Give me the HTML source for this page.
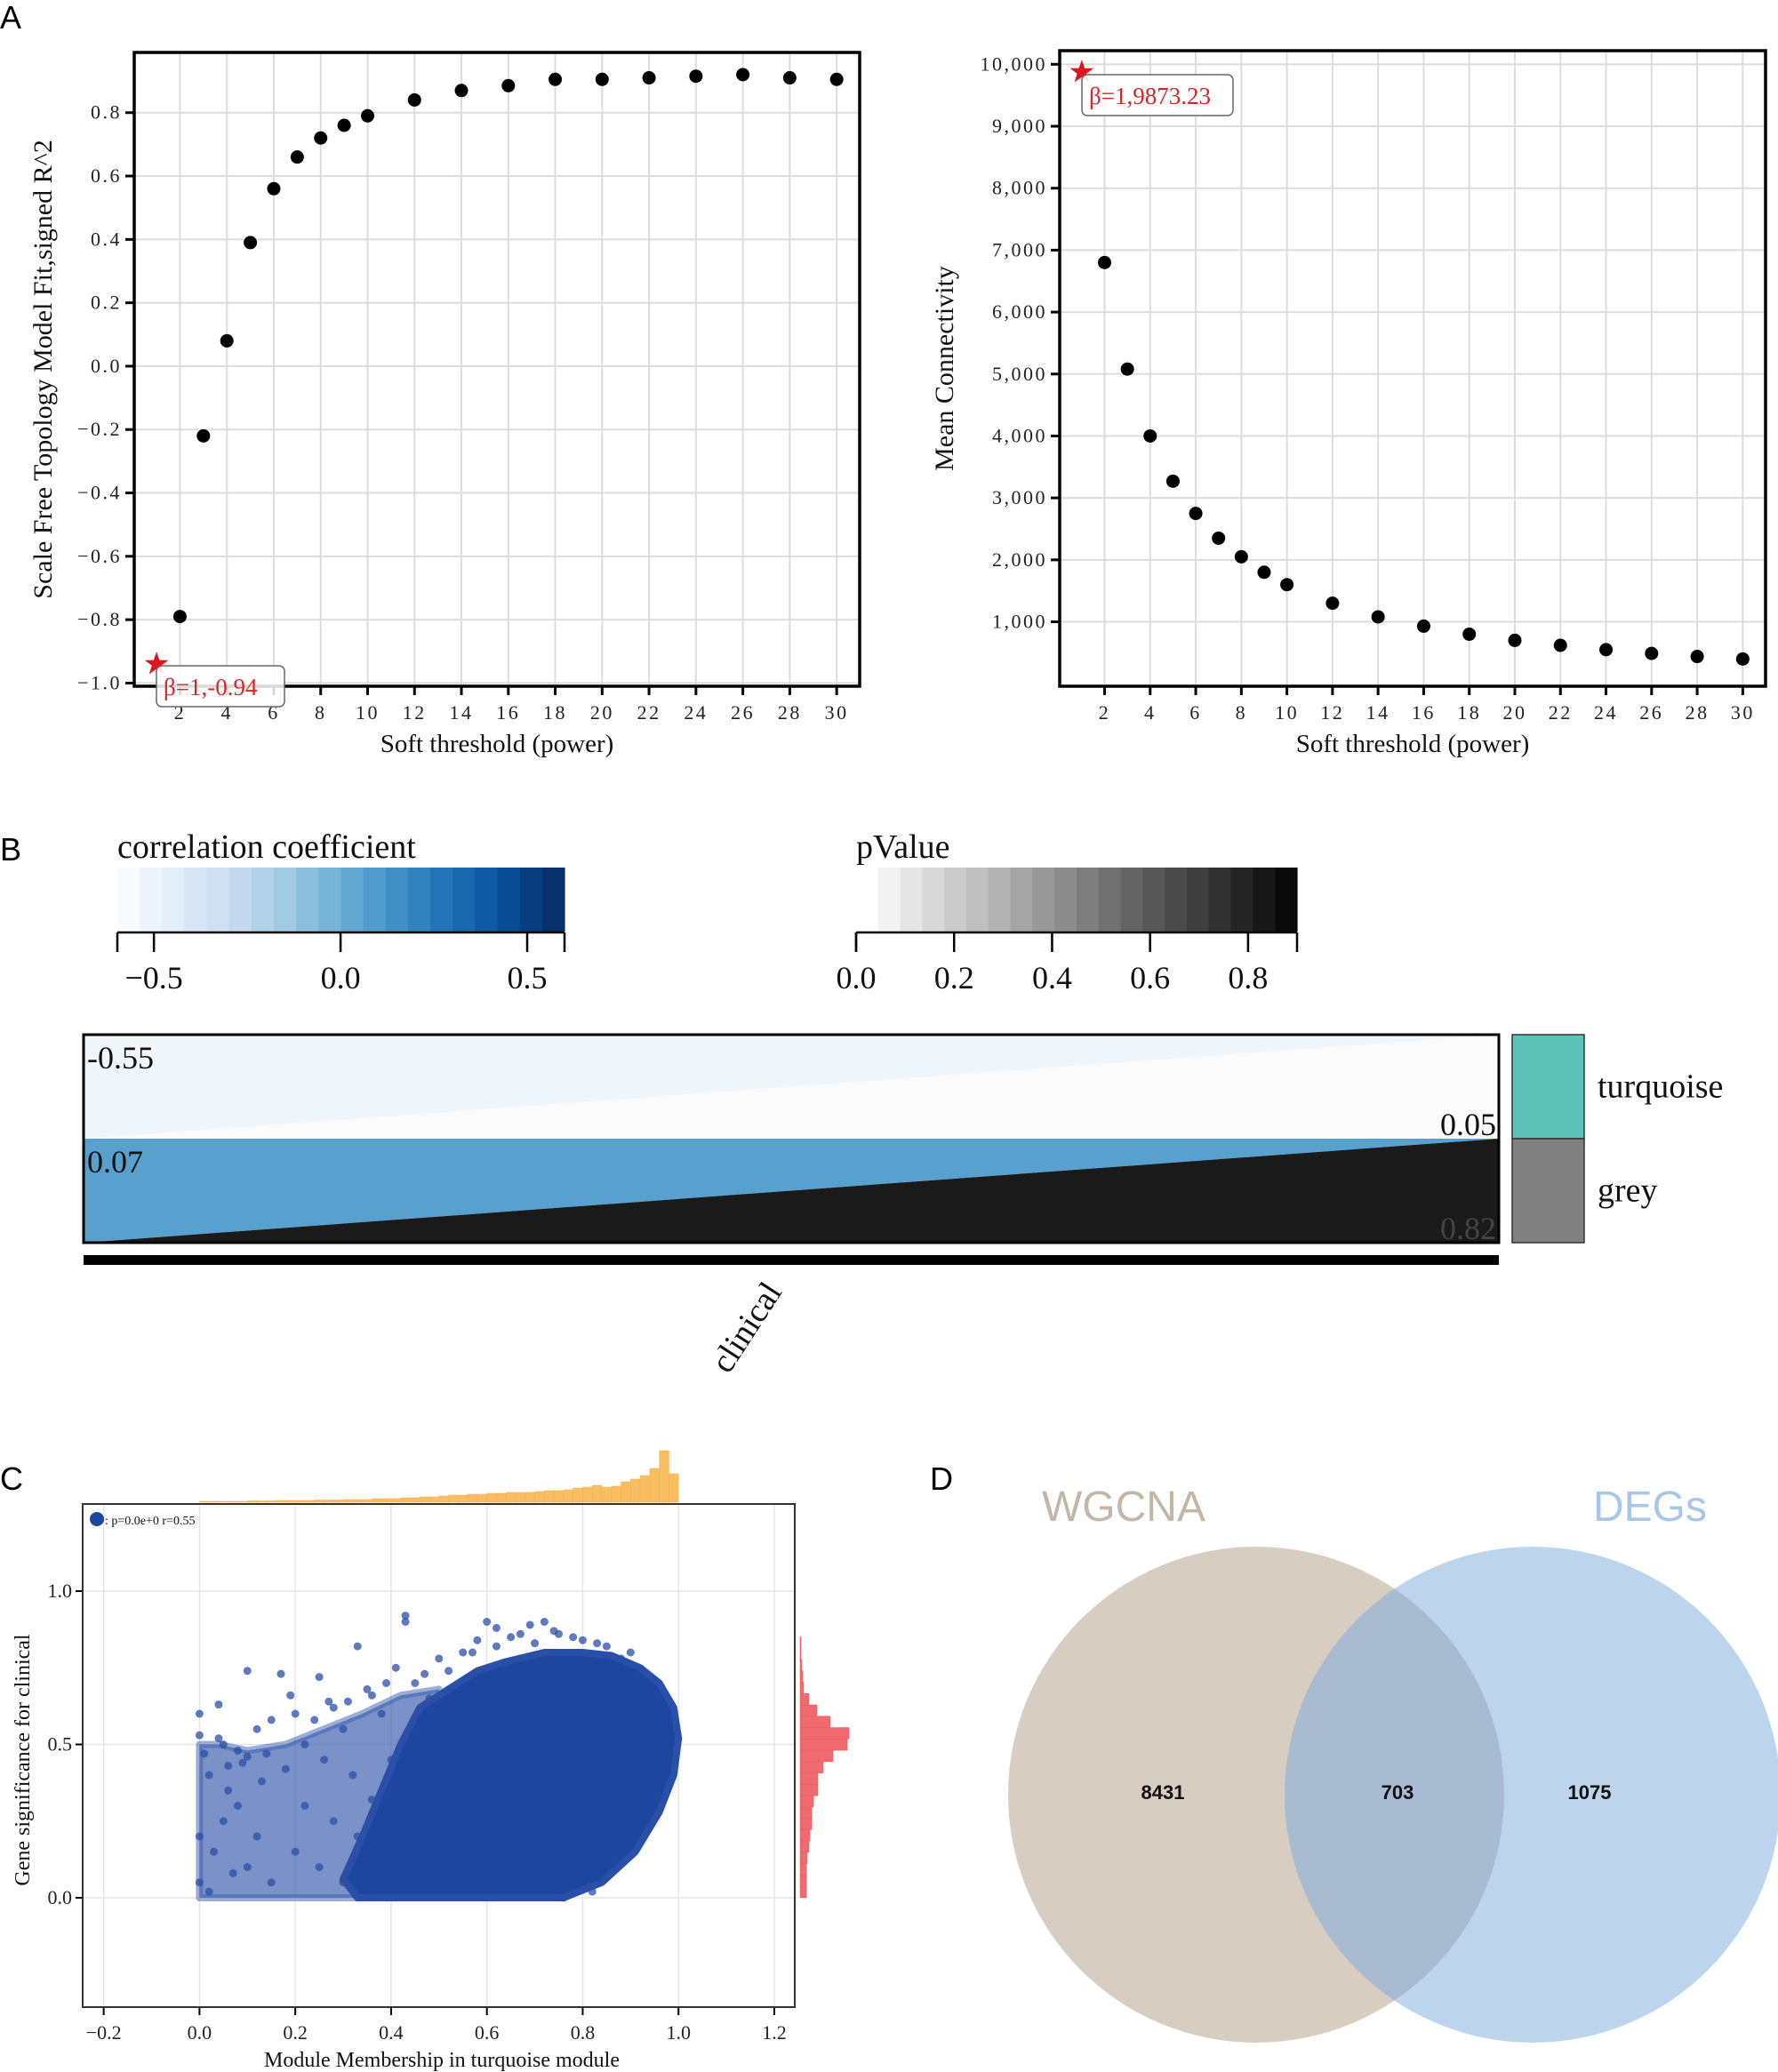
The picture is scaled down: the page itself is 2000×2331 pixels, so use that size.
<!DOCTYPE html>
<html><head><meta charset="utf-8">
<style>
html,body{margin:0;padding:0;background:#fff}
svg{display:block}
text{font-family:"Liberation Serif",serif}
.tk{font-size:22px;letter-spacing:2.5px;fill:#222}
.sans{font-family:"Liberation Sans",sans-serif}
</style></head>
<body>
<svg id="fig" width="2000" height="2331" viewBox="0 0 2000 2331" xmlns="http://www.w3.org/2000/svg">
<g id="pA1"></g>
<g id="pA2"></g>
<g id="pB"></g>
<g id="pC"></g>
<g id="pD"></g>
</svg>
<script>
// ---- Panel A data ----
const powers = [1,2,3,4,5,6,7,8,9,10,12,14,16,18,20,22,24,26,28,30];
const fitR2 = [-0.94,-0.79,-0.22,0.08,0.39,0.56,0.66,0.72,0.76,0.79,0.84,0.87,0.885,0.905,0.905,0.91,0.915,0.92,0.91,0.905];
const meanK = [9873.23,6800,5080,4000,3270,2750,2350,2050,1800,1600,1300,1080,930,800,700,620,550,490,440,400];
const xTicksA = [2,4,6,8,10,12,14,16,18,20,22,24,26,28,30];
const yTicksA1 = [-1.0,-0.8,-0.6,-0.4,-0.2,0.0,0.2,0.4,0.6,0.8];
const yTicksA2 = [1000,2000,3000,4000,5000,6000,7000,8000,9000,10000];
// ---- Panel B data ----
const corrVals = [-0.55,0.07];
const pVals = [0.05,0.82];
const modules = ["turquoise","grey"];
const corrTicks = [-0.5,0.0,0.5];
const pTicks = [0.0,0.2,0.4,0.6,0.8];
// ---- Panel C data ----
const histTop = [1,1,1,1,1,1.5,1.5,1.5,2,2,2,2,2.5,2.5,2.5,3,3,3,4,4,4,5,5,6,6,7,8,8,9,9,10,10,11,11,11,12,13,13,14,16,17,19,17,18,23,26,30,38,58,32];
const histRightBins = [0,0.037,0.074,0.111,0.148,0.185,0.222,0.259,0.296,0.333,0.37,0.407,0.444,0.481,0.518,0.555,0.592,0.629,0.666,0.703,0.74,0.777,0.814];
const histRight = [7,7,7,8,10,11,13,13,15,20,20,26,37,53,55,34,19,10,4,3,2,1,1];
const coreX = [0.33,0.76,0.84,0.91,0.96,0.99,1.0,0.99,0.96,0.92,0.86,0.8,0.72,0.64,0.58,0.52,0.46,0.42,0.38,0.34,0.3];
const coreY = [0,0,0.05,0.15,0.28,0.4,0.52,0.62,0.7,0.75,0.79,0.8,0.8,0.77,0.74,0.68,0.62,0.5,0.35,0.2,0.06];
const sparseX = [0,0.5,0.5,0.42,0.34,0.26,0.18,0.1,0.04,0];
const sparseY = [0,0,0.68,0.66,0.6,0.55,0.5,0.48,0.5,0.5];
const ptsX = [0.0,0.04,0.1,0.17,0.25,0.33,0.41,0.43,0.43,0.6,0.69,0.72,0.0,0.05,0.08,0.1,0.12,0.15,0.2,0.22,0.28,0.3,0.35,0.38,0.02,0.06,0.13,0.18,0.26,0.32,0.0,0.03,0.05,0.08,0.1,0.12,0.15,0.2,0.22,0.25,0.28,0.3,0.33,0.36,0.0,0.02,0.07,0.76,0.82,0.5,0.55,0.65,0.8,0.85,0.9,0.45,0.48,0.4,0.58,0.62,0.67,0.75,0.78,0.27,0.19,0.09,0.14,0.01,0.04,0.06,0.52,0.57,0.62,0.7,0.74,0.83,0.88,0.47,0.39,0.36,0.31,0.24];
const ptsY = [0.6,0.63,0.74,0.73,0.72,0.82,0.75,0.92,0.9,0.9,0.89,0.9,0.53,0.5,0.48,0.46,0.55,0.58,0.6,0.5,0.62,0.55,0.68,0.6,0.4,0.35,0.38,0.42,0.45,0.4,0.2,0.15,0.25,0.3,0.1,0.2,0.05,0.15,0.3,0.1,0.25,0.05,0.2,0.32,0.05,0.02,0.08,0.0,0.02,0.78,0.8,0.85,0.84,0.82,0.8,0.7,0.65,0.45,0.84,0.88,0.86,0.86,0.85,0.64,0.66,0.44,0.47,0.47,0.52,0.43,0.74,0.8,0.82,0.83,0.87,0.83,0.78,0.73,0.7,0.66,0.64,0.58];
const xTicksC = [-0.2,0.0,0.2,0.4,0.6,0.8,1.0,1.2];
const yTicksC = [0.0,0.5,1.0];
// ---- Panel D data ----
const vennLabels = ["WGCNA","DEGs"];
const vennCounts = [8431,703,1075];

const NS="http://www.w3.org/2000/svg";
function mk(parent,tag,attrs,txt){const e=document.createElementNS(NS,tag);for(const k in attrs)e.setAttribute(k,attrs[k]);if(txt!==undefined)e.textContent=txt;parent.appendChild(e);return e;}
const fig=document.getElementById('fig');

[["A",0,32],["B",0,968],["C",0,1676],["D",1046,1676]].forEach(l=>{
  const t=mk(fig,'text',{x:l[1],y:l[2],'font-size':36,class:'sans',fill:'#000'},l[0]);
  
  
});

function scatterPanel(g,L,R,T,B,xmin,xmax,ymin,ymax,yt,ylabFmt,yvals,ytitle,ytx,star,boxX,boxW,boxY){
  const sx=v=>L+(v-xmin)/(xmax-xmin)*(R-L);
  const sy=v=>B-(v-ymin)/(ymax-ymin)*(B-T);
  yt.forEach(v=>{
    const l=mk(g,'line',{x1:L,x2:R,y1:sy(v),y2:sy(v),stroke:'#dcdcdc','stroke-width':2});
    
    const tk=mk(g,'line',{x1:L-10,x2:L,y1:sy(v),y2:sy(v),stroke:'#000','stroke-width':3});
    
    const t=mk(g,'text',{x:L-14,y:sy(v)+7,'text-anchor':'end',class:'tk'},ylabFmt(v));
    
  });
  xTicksA.forEach(v=>{
    const l=mk(g,'line',{x1:sx(v),x2:sx(v),y1:T,y2:B,stroke:'#dcdcdc','stroke-width':2});
    
    const tk=mk(g,'line',{x1:sx(v),x2:sx(v),y1:B,y2:B+10,stroke:'#000','stroke-width':3});
    
    const t=mk(g,'text',{x:sx(v),y:B+37,'text-anchor':'middle',class:'tk'},String(v));
    
  });
  const fr=mk(g,'rect',{x:L,y:T,width:R-L,height:B-T,fill:'none',stroke:'#000','stroke-width':3.5});
  
  powers.forEach((p,i)=>{
    if(i===0) return;
    const c=mk(g,'circle',{cx:sx(p),cy:sy(yvals[i]),r:7.5,fill:'#000'});
    
  });
  const cx=sx(powers[0]),cy=sy(yvals[0]);
  let pts=[];for(let k=0;k<10;k++){const a=-Math.PI/2+k*Math.PI/5;const r=k%2?5.5:14;pts.push((cx+r*Math.cos(a)).toFixed(1)+','+(cy+r*Math.sin(a)).toFixed(1));}
  const st=mk(g,'polygon',{points:pts.join(' '),fill:'#e0141e'});
  
  const bx=mk(g,'rect',{x:boxX,y:boxY,width:boxW,height:46,rx:6,fill:'rgba(255,255,255,0.85)',stroke:'#666','stroke-width':1.5});
  
  const at=mk(g,'text',{x:boxX+8,y:boxY+33,'font-size':27,fill:'#d62728'},star);
  
  const xl=mk(g,'text',{x:(L+R)/2,y:B+74,'text-anchor':'middle','font-size':29,fill:'#111'},'Soft threshold (power)');
  
  const yl=mk(g,'text',{x:ytx,y:(T+B)/2,'text-anchor':'middle','font-size':30,fill:'#111',transform:`rotate(-90 ${ytx} ${(T+B)/2})`},ytitle);
  
}
scatterPanel(document.getElementById('pA1'),151,967,59,772,0.05,30.98,-1.01,0.99,yTicksA1,v=>(v<0?'\u2212':'')+Math.abs(v).toFixed(1),fitR2,'Scale Free Topology Model Fit,signed R^2',58,'β=1,-0.94',176,144,749);
scatterPanel(document.getElementById('pA2'),1192,1986,57,772,0.03,31.0,-40,10220,yTicksA2,v=>v.toLocaleString('en-US'),meanK,'Mean Connectivity',1072,'β=1,9873.23',1217,170,84);

// ---- Panel B ----
(function(){
  const g=document.getElementById('pB');
  function cbar(x0,x1,vmin,vmax,cols,ticks,title,name,fmt){
    const n=cols.length,w=(x1-x0)/n;
    const tt=mk(g,'text',{x:x0,y:965,'font-size':38,fill:'#111'},title);
    
    cols.forEach((c,i)=>{const r=mk(g,'rect',{x:x0+i*w,y:976,width:w+0.6,height:72,fill:c});
      });
    const ax=mk(g,'line',{x1:x0,x2:x1,y1:1049,y2:1049,stroke:'#000','stroke-width':2.5});
    
    const sx=v=>x0+(v-vmin)/(vmax-vmin)*(x1-x0);
    [x0,x1].forEach(x=>{const l=mk(g,'line',{x1:x,x2:x,y1:1049,y2:1071,stroke:'#000','stroke-width':2.5});
      });
    ticks.forEach(v=>{
      const l=mk(g,'line',{x1:sx(v),x2:sx(v),y1:1049,y2:1071,stroke:'#000','stroke-width':2.5});
      
      const t=mk(g,'text',{x:sx(v),y:1112,'text-anchor':'middle','font-size':36,fill:'#111'},fmt(v));
      
    });
  }
  const blues=[];const greys=[];
  const bl=[[247,251,255],[222,235,247],[198,219,239],[158,202,225],[107,174,214],[66,146,198],[33,113,181],[8,81,156],[8,48,107]];
  function interp(stops,t){t=Math.max(0,Math.min(1,t));const p=t*(stops.length-1);const i=Math.min(Math.floor(p),stops.length-2);const f=p-i;
    return 'rgb('+stops[i].map((c,k)=>Math.round(c+(stops[i+1][k]-c)*f)).join(',')+')';}
  for(let i=0;i<20;i++){blues.push(interp(bl,i/19));greys.push(interp([[255,255,255],[10,10,10]],i/19));}
  cbar(132,635,-0.598,0.6,blues,corrTicks,'correlation coefficient','corr-colorbar',v=>(v<0?'\u2212':'')+Math.abs(v).toFixed(1));
  cbar(963,1459,0,0.9,greys,pTicks,'pValue','pvalue-colorbar',v=>v.toFixed(1));
  const L=94,R=1686,T=1164,H=117;
  const cmap=v=>interp(bl,(v+0.598)/1.198);
  const gmap=v=>interp([[252,252,252],[26,26,26]],Math.pow(v/0.82,2));
  modules.forEach((m,i)=>{
    const y0=T+i*H,y1=y0+H;
    const p1=mk(g,'polygon',{points:`${L},${y0} ${R},${y0} ${L},${y1}`,fill:cmap(corrVals[i])});
    
    const p2=mk(g,'polygon',{points:`${R},${y0} ${R},${y1} ${L},${y1}`,fill:gmap(pVals[i])});
    
    const t1=mk(g,'text',{x:L+4,y:y0+38,'font-size':36,fill:'#111'},corrVals[i].toFixed(2));
    
    const t2=mk(g,'text',{x:R-3,y:y1-4,'text-anchor':'end','font-size':36,fill:pVals[i]>0.5?'#444':'#111'},pVals[i].toFixed(2));
    
    const mc=mk(g,'rect',{x:1701,y:y0,width:81,height:H,fill:m==='turquoise'?'#5cc2b8':'#808080',stroke:'#333','stroke-width':1.5});
    
    const ml=mk(g,'text',{x:1797,y:y0+H/2+12,'font-size':38,fill:'#111'},m);
    
  });
  const fr=mk(g,'rect',{x:L,y:T,width:R-L,height:2*H,fill:'none',stroke:'#000','stroke-width':3});
  
  const tb=mk(g,'rect',{x:L,y:1412,width:R-L,height:11,fill:'#000'});
  
  const cl=mk(g,'text',{x:850,y:1500,'text-anchor':'middle','font-size':38,fill:'#111',transform:'rotate(-57 850 1500)'},'clinical');
  
})();

// ---- Panel C ----
(function(){
  const g=document.getElementById('pC');
  const L=93,R=894,T=1692,B=2258;
  const sx=v=>224.4+v*538.8;
  const sy=v=>2135-v*345;
  xTicksC.forEach(v=>{
    const l=mk(g,'line',{x1:sx(v),x2:sx(v),y1:T,y2:B,stroke:'#e6e6e6','stroke-width':1.5});
    
    const tk=mk(g,'line',{x1:sx(v),x2:sx(v),y1:B,y2:B+9,stroke:'#000','stroke-width':2});
    
    const t=mk(g,'text',{x:sx(v),y:B+36,'text-anchor':'middle','font-size':22,fill:'#222'},(v<0?'\u2212':'')+Math.abs(v).toFixed(1));
    
  });
  yTicksC.forEach(v=>{
    const l=mk(g,'line',{x1:L,x2:R,y1:sy(v),y2:sy(v),stroke:'#e6e6e6','stroke-width':1.5});
    
    const tk=mk(g,'line',{x1:L-8,x2:L,y1:sy(v),y2:sy(v),stroke:'#000','stroke-width':2});
    
    const t=mk(g,'text',{x:L-12,y:sy(v)+7,'text-anchor':'end','font-size':22,fill:'#222'},v.toFixed(1));
    
  });
  const sp=mk(g,'polygon',{points:sparseX.map((x,i)=>sx(x)+','+sy(sparseY[i])).join(' '),fill:'#2a4fa8','fill-opacity':0.62,stroke:'#3a5db0','stroke-opacity':0.5,'stroke-width':8,'stroke-linejoin':'round'});
  
  const cp=mk(g,'polygon',{points:coreX.map((x,i)=>sx(x)+','+sy(coreY[i])).join(' '),fill:'#1d46a0','stroke':'#2a4fa8','stroke-width':8,'stroke-linejoin':'round'});
  
  ptsX.forEach((x,i)=>{
    const c=mk(g,'circle',{cx:sx(x),cy:sy(ptsY[i]),r:4.5,fill:'#2a4fa8','fill-opacity':0.75});
    
  });
  const bw=538.8/histTop.length;
  histTop.forEach((h,i)=>{
    const r=mk(g,'rect',{x:sx(i/histTop.length),y:T-2-h,width:bw,height:h,fill:'#f8bf62',stroke:'#f3b04a','stroke-width':0.5});
    
  });
  const bh=0.037*345;
  histRightBins.forEach((b,i)=>{
    const r=mk(g,'rect',{x:900,y:sy(b)-bh,width:histRight[i],height:bh,fill:'#f06b6f',stroke:'#e85a5f','stroke-width':0.5});
    
  });
  const fr=mk(g,'rect',{x:L,y:T,width:R-L,height:B-T,fill:'none',stroke:'#333','stroke-width':2});
  
  const ld=mk(g,'circle',{cx:109,cy:1709,r:8,fill:'#1d46a0'});
  
  const lt=mk(g,'text',{x:118,y:1715,'font-size':14,fill:'#111'},': p=0.0e+0 r=0.55');
  
  const xl=mk(g,'text',{x:497,y:2325,'text-anchor':'middle','font-size':24,fill:'#111'},'Module Membership in turquoise module');
  
  const yl=mk(g,'text',{x:33,y:1980,'text-anchor':'middle','font-size':24,fill:'#111',transform:'rotate(-90 33 1980)'},'Gene significance for clinical');
  
})();

// ---- Panel D ----
(function(){
  const g=document.getElementById('pD');
  const defs=mk(g,'defs',{});
  const cp=mk(defs,'clipPath',{id:'clipL'});
  mk(cp,'circle',{cx:1413,cy:2019,r:279});
  const c1=mk(g,'circle',{cx:1413,cy:2019,r:279,fill:'#d8cdc1'});
  
  const c2=mk(g,'circle',{cx:1724,cy:2019,r:279,fill:'#bcd5ed'});
  
  const ov=mk(g,'circle',{cx:1724,cy:2019,r:279,fill:'#a9bbd1','clip-path':'url(#clipL)'});
  
  const l1=mk(g,'text',{x:1264,y:1711,'text-anchor':'middle','font-size':48,class:'sans',fill:'#c3b6a7'},vennLabels[0]);
  
  const l2=mk(g,'text',{x:1856,y:1711,'text-anchor':'middle','font-size':48,class:'sans',fill:'#a8c7e6'},vennLabels[1]);
  
  [[1308,'count-wgcna-only'],[1572,'count-overlap'],[1788,'count-degs-only']].forEach((p,i)=>{
    const t=mk(g,'text',{x:p[0],y:2024,'text-anchor':'middle','font-size':22,'font-weight':'bold',class:'sans',fill:'#111'},String(vennCounts[i]));
    
  });
})();
</script>
</body></html>
